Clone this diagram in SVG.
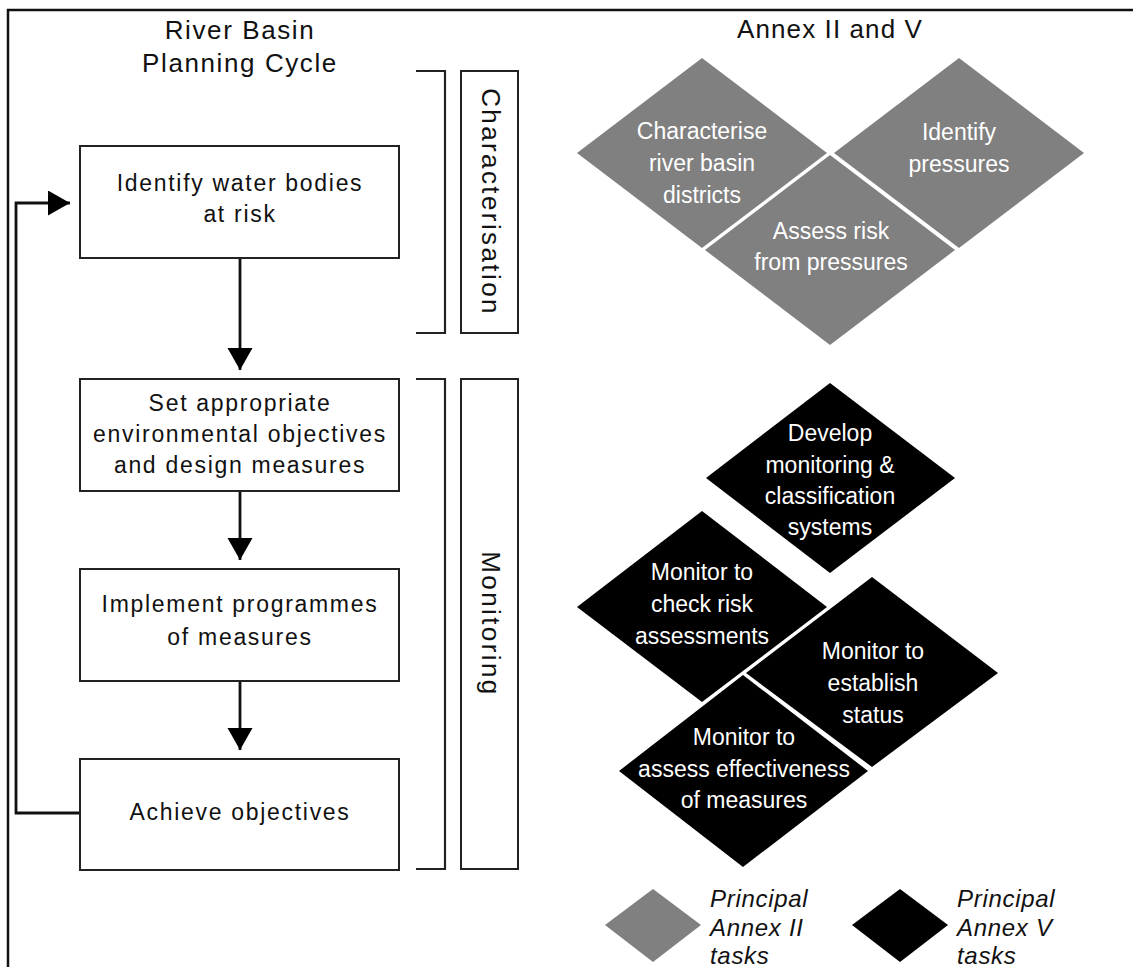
<svg xmlns="http://www.w3.org/2000/svg" width="1133" height="967" viewBox="0 0 1133 967">
<defs>
<style>
text{font-family:"Liberation Sans",Arial,sans-serif;}
.frame{fill:none;stroke:#111;stroke-width:2.5;}
.box{fill:#fff;stroke:#222;stroke-width:2;}
.bt{font-size:23px;letter-spacing:1.7px;fill:#111;text-anchor:middle;}
.title{font-size:26px;letter-spacing:1.6px;fill:#111;text-anchor:middle;}
.conn{fill:none;stroke:#111;stroke-width:2.8;}
.brk{fill:none;stroke:#222;stroke-width:2.2;}
.vt{font-size:26px;letter-spacing:2.4px;fill:#111;text-anchor:middle;}
.grey{fill:#808080;}
.black{fill:#000;}
.dt{font-size:23px;fill:#fff;text-anchor:middle;}
.lg{font-size:24px;font-style:italic;letter-spacing:0.7px;fill:#111;}
</style>
<marker id="ah" markerUnits="userSpaceOnUse" markerWidth="24" markerHeight="26" refX="22" refY="12.5" orient="auto">
<path d="M0,0 L22,12.5 L0,25 z" fill="#000"/>
</marker>
</defs>
<rect width="1133" height="967" fill="#fff"/>
<path class="frame" d="M8,967 V10 H1133"/>

<g id="titles">
<text class="title" x="240" y="39">River Basin</text>
<text class="title" x="240" y="72">Planning Cycle</text>
<text class="title" x="830" y="38" style="letter-spacing:1.1px">Annex II and V</text>
</g>

<g id="connectors">
<line class="conn" x1="240" y1="258" x2="240" y2="370" marker-end="url(#ah)"/>
<line class="conn" x1="240" y1="491" x2="240" y2="560" marker-end="url(#ah)"/>
<line class="conn" x1="240" y1="681" x2="240" y2="750" marker-end="url(#ah)"/>
<path class="conn" d="M80,813 H16 V203 H70" marker-end="url(#ah)"/>
</g>

<g id="box-identify">
<rect class="box" x="80" y="146" width="319" height="112"/>
<text class="bt" x="240" y="191">Identify water bodies</text>
<text class="bt" x="240" y="222">at risk</text>
</g>
<g id="box-set">
<rect class="box" x="80" y="379" width="319" height="112"/>
<text class="bt" x="240" y="411">Set appropriate</text>
<text class="bt" x="240" y="442">environmental objectives</text>
<text class="bt" x="240" y="473">and design measures</text>
</g>
<g id="box-implement">
<rect class="box" x="80" y="569" width="319" height="112"/>
<text class="bt" x="240" y="612">Implement programmes</text>
<text class="bt" x="240" y="645">of measures</text>
</g>
<g id="box-achieve">
<rect class="box" x="80" y="759" width="319" height="111"/>
<text class="bt" x="240" y="820">Achieve objectives</text>
</g>

<g id="bracket-characterisation">
<path class="brk" d="M416,71 H445 V333 H416"/>
<rect class="box" x="461" y="71" width="57" height="262"/>
<text class="vt" transform="translate(482,202) rotate(90)" x="0" y="0">Characterisation</text>
</g>
<g id="bracket-monitoring">
<path class="brk" d="M416,379 H445 V869 H416"/>
<rect class="box" x="461" y="379" width="57" height="490"/>
<text class="vt" transform="translate(482,624) rotate(90)" x="0" y="0">Monitoring</text>
</g>

<g id="d-characterise">
<polygon class="grey" points="577,153 702,58 827,153 702,248"/>
<text class="dt" x="702" y="139">Characterise</text>
<text class="dt" x="702" y="171">river basin</text>
<text class="dt" x="702" y="203">districts</text>
</g>
<g id="d-identify">
<polygon class="grey" points="834,153 959,58 1084,153 959,248"/>
<text class="dt" x="959" y="140">Identify</text>
<text class="dt" x="959" y="172">pressures</text>
</g>
<g id="d-assess">
<polygon class="grey" points="705,250 830,155 955,250 830,345"/>
<text class="dt" x="831" y="239">Assess risk</text>
<text class="dt" x="831" y="270">from pressures</text>
</g>

<g id="d-develop">
<polygon class="black" points="706,478 830,383 955,478 830,573"/>
<text class="dt" x="830" y="441">Develop</text>
<text class="dt" x="830" y="473">monitoring &amp;</text>
<text class="dt" x="830" y="504">classification</text>
<text class="dt" x="830" y="535">systems</text>
</g>
<g id="d-check">
<polygon class="black" points="577,607 702,511 827,607 702,702"/>
<text class="dt" x="702" y="580">Monitor to</text>
<text class="dt" x="702" y="612">check risk</text>
<text class="dt" x="702" y="644">assessments</text>
</g>
<g id="d-status">
<polygon class="black" points="746,673 872,577 998,673 872,767"/>
<text class="dt" x="873" y="659">Monitor to</text>
<text class="dt" x="873" y="691">establish</text>
<text class="dt" x="873" y="723">status</text>
</g>
<g id="d-effect">
<polygon class="black" points="619,771 743,675 868,771 743,867"/>
<text class="dt" x="744" y="745">Monitor to</text>
<text class="dt" x="744" y="777">assess effectiveness</text>
<text class="dt" x="744" y="808">of measures</text>
</g>

<g id="legend-annex2">
<polygon class="grey" points="605,925 653,889 701,925 653,962"/>
<text class="lg" x="710" y="907">Principal</text>
<text class="lg" x="710" y="936">Annex II</text>
<text class="lg" x="710" y="964">tasks</text>
</g>
<g id="legend-annex5">
<polygon class="black" points="852,925 900,889 948,925 900,962"/>
<text class="lg" x="957" y="907">Principal</text>
<text class="lg" x="957" y="936">Annex V</text>
<text class="lg" x="957" y="964">tasks</text>
</g>
</svg>
